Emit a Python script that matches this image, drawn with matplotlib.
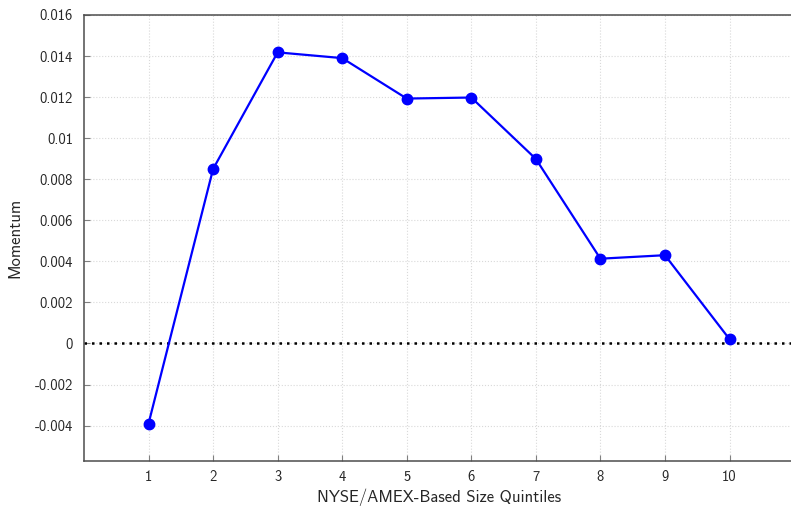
import matplotlib
matplotlib.use("Agg")
import matplotlib.pyplot as plt

# Momentum by NYSE/AMEX size group
quintiles = [1, 2, 3, 4, 5, 6, 7, 8, 9, 10]
momentum = [-0.0039, 0.0085, 0.01418, 0.0139, 0.01193, 0.01198,
            0.00899, 0.00413, 0.0043, 0.00021]
y_ticks = [-0.004, -0.002, 0, 0.002, 0.004, 0.006, 0.008, 0.01, 0.012, 0.014, 0.016]
y_tick_labels = ["-0.004", "-0.002", "0", "0.002", "0.004", "0.006",
                 "0.008", "0.01", "0.012", "0.014", "0.016"]

plt.rcParams["font.family"] = ["cmss10", "DejaVu Sans"]
plt.rcParams["axes.unicode_minus"] = False
plt.rcParams["mathtext.fontset"] = "cm"

W, H = 791, 507
fig = plt.figure(figsize=(W / 100, H / 100), dpi=100)
left, top, bottom = 84, 15, 460.5
width_px = 11 * 64.55
ax = fig.add_axes([left / W, 1 - bottom / H, width_px / W, (bottom - top) / H])

text_color = "#262626"
spine_color = "#4d4d4d"

ax.set_xlim(0, 11)
ax.set_ylim(-0.0057, 0.016)

ax.grid(True, color="#d9d9d9", linestyle=":", linewidth=0.8)
ax.set_axisbelow(True)

ax.axhline(0, color="black", linestyle=(0, (1, 2)), linewidth=1.8, zorder=2)
ax.plot(quintiles, momentum, color="#0000ff", linewidth=1.6,
        marker="o", markersize=7.5, zorder=3)

ax.set_xticks(quintiles)
ax.set_xticklabels([str(q) for q in quintiles])
ax.set_yticks(y_ticks)
ax.set_yticklabels(y_tick_labels)

ax.tick_params(direction="in", length=4.5, width=0.8, color="#808080",
               labelsize=10.5, labelcolor=text_color, pad=7)
ax.tick_params(axis="y", pad=8)

for side in ["left", "bottom", "top"]:
    ax.spines[side].set_color(spine_color)
    ax.spines[side].set_linewidth(1.1)
ax.spines["right"].set_visible(False)

ax.set_xlabel("NYSE/AMEX-Based Size Quintiles", fontsize=12, color=text_color, labelpad=3)
ax.set_ylabel("Momentum", fontsize=12, color=text_color, labelpad=9)

fig.savefig("out.png", dpi=100)
